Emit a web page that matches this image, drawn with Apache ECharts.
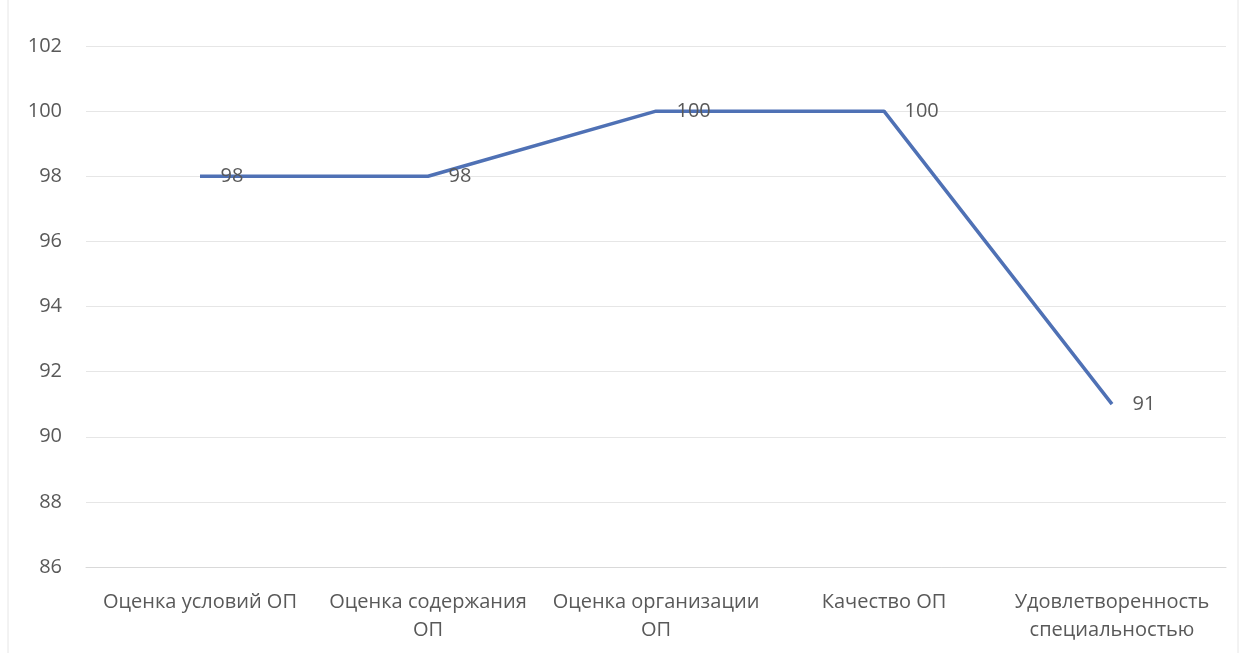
<!DOCTYPE html>
<html><head><meta charset="utf-8">
<script src="https://cdn.jsdelivr.net/npm/echarts@6/dist/echarts.min.js"></script>
<style>html,body{margin:0;padding:0;background:#fff}#c{width:1247px;height:653px}</style>
</head><body><div id="c"></div>
<script>
const categories = ["Оценка условий ОП", "Оценка содержания\nОП", "Оценка организации\nОП", "Качество ОП", "Удовлетворенность\nспециальностью"];
const values = [98, 98, 100, 100, 91];
const yTicks = {min: 86, max: 102, interval: 2};

const chart = echarts.init(document.getElementById('c'), null, {renderer: 'canvas'});
chart.setOption({
  backgroundColor: '#fff',
  animation: false,
  grid: {left: 86, right: 21, top: 46, bottom: 86},
  graphic: [{type: 'rect', shape: {x: 8, y: -2, width: 1230, height: 660}, style: {fill: 'none', stroke: '#e6e6e6', lineWidth: 1}}],
  xAxis: {
    type: 'category', data: categories, boundaryGap: true,
    axisLine: {show: true, lineStyle: {color: '#d9d9d9', width: 1}},
    axisTick: {show: false},
    axisLabel: {color: '#595959', fontFamily: 'Open Sans', fontSize: 20, margin: 21, lineHeight: 28, interval: 0}
  },
  yAxis: {
    type: 'value', min: yTicks.min, max: yTicks.max, interval: yTicks.interval,
    axisLine: {show: false}, axisTick: {show: false},
    splitLine: {lineStyle: {color: '#e6e6e6', width: 1}},
    axisLabel: {color: '#595959', fontFamily: 'Open Sans', fontSize: 20, margin: 24}
  },
  series: [{
    type: 'line', data: values, symbol: 'circle', symbolSize: 1, showSymbol: true,
    itemStyle: {color: 'rgba(0,0,0,0)'},
    lineStyle: {color: '#4f71b5', width: 3.5},
    label: {show: true, position: 'right', distance: 20, color: '#595959', fontFamily: 'Open Sans', fontSize: 20}
  }]
});
</script></body></html>
